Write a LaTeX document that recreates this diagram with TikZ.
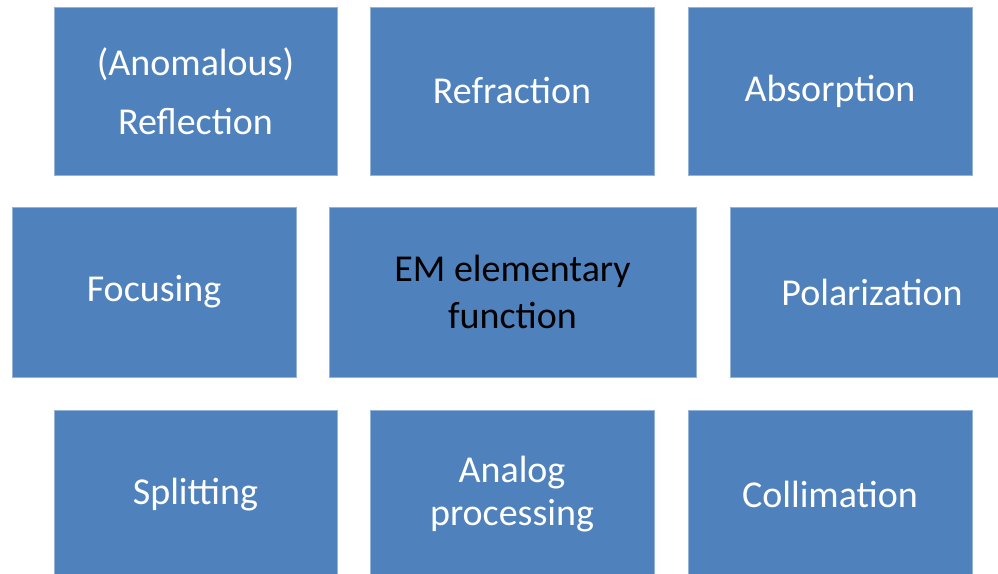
\documentclass[tikz,border=0pt]{standalone}
\usepackage{fontspec}
\setmainfont{Carlito}
\definecolor{tileblue}{HTML}{4F81BD}
\tikzset{
  tile/.style={fill=tileblue, draw=tileblue!60!white, line width=0.8pt,
    text=white, align=center, inner sep=0pt,
    font=\fontsize{38}{47}\selectfont,
    minimum width=284pt, minimum height=168pt},
}
\begin{document}
\begin{tikzpicture}[x=1pt,y=-1pt]
\clip (0,0) rectangle (998,573);
\fill[white] (0,0) rectangle (998,573);
% top row
\node[tile,minimum width=283pt] (reflection) at (195.5,91) {(Anomalous)\\[12pt]Reflection};
\node[tile] (refraction) at (512,91) {Refraction};
\node[tile] (absorption) at (830,91) {Absorption};
% middle row
\node[tile,minimum height=170pt] (focusing) at (154,292) {Focusing};
\node[tile,minimum width=367pt,minimum height=170pt,text=black] (elementary) at (512.5,292) {EM elementary\\function};
\node[tile,minimum height=170pt] (polarization) at (872,292) {Polarization};
% bottom row
\node[tile,minimum width=283pt] (splitting) at (195.5,494.5) {Splitting};
\node[tile] (analog) at (512,494.5) {Analog\\[-4pt]processing};
\node[tile] (collimation) at (830,494.5) {Collimation};
\end{tikzpicture}
\end{document}
